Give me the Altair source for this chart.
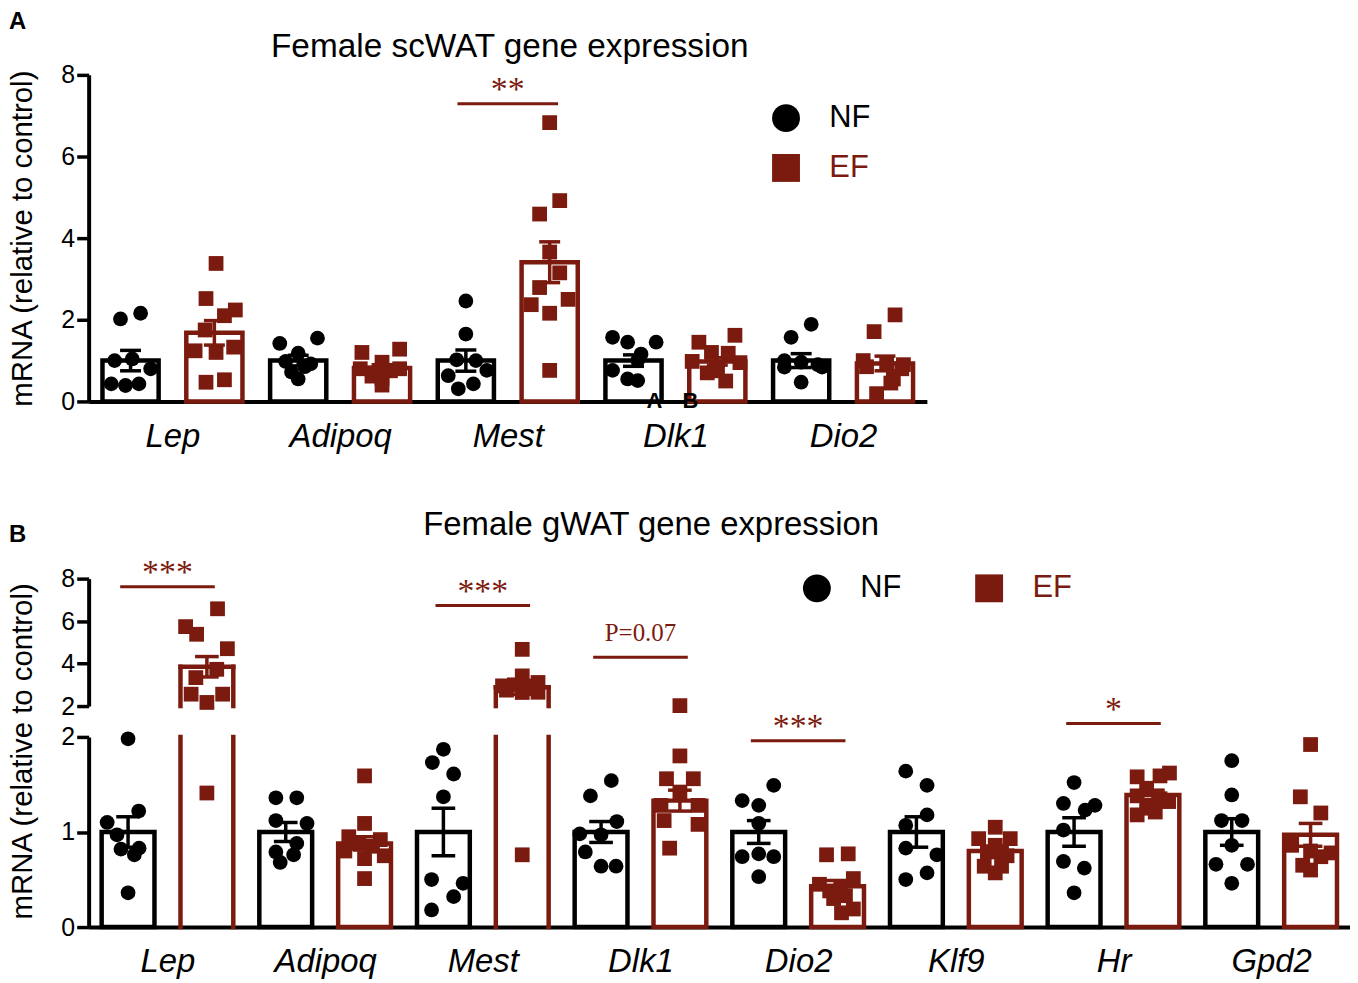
import json
import altair as alt
import pandas as pd

FONT = "Liberation Sans"
SERIF = "Liberation Serif"
BLACK = "#000000"
DARK = "#7b1a0e"

groups = ["NF", "EF"]
y_title = "mRNA (relative to control)"

# ---------------- Panel A: Female scWAT ----------------
title_a = "Female scWAT gene expression"
genes_a = ["Lep", "Adipoq", "Mest", "Dlk1", "Dio2"]
mean_a_nf = [1.0, 1.0, 1.0, 1.0, 1.0]
mean_a_ef = [1.68, 0.82, 3.41, 0.98, 0.93]
sem_a_nf = [0.25, 0.13, 0.26, 0.14, 0.17]
sem_a_ef = [0.30, 0.08, 0.50, 0.09, 0.18]
pts_a_nf = {
    "Lep": [2.02, 2.16, 1.00, 1.04, 0.80, 0.43, 0.39, 0.43],
    "Adipoq": [1.42, 1.55, 1.18, 0.98, 0.92, 0.85, 0.72, 0.55],
    "Mest": [2.46, 1.65, 1.02, 1.00, 0.63, 0.76, 0.31, 0.43],
    "Dlk1": [1.57, 1.45, 1.45, 1.16, 1.00, 0.76, 0.55, 0.51],
    "Dio2": [1.89, 1.57, 1.00, 0.96, 0.90, 0.84, 0.84, 0.47],
}
jit_a_nf = {
    "Lep": [-0.12, 0.12, -0.19, 0.02, 0.24, -0.23, -0.06, 0.10],
    "Adipoq": [-0.22, 0.23, 0.0, -0.15, 0.15, 0.08, -0.08, 0.0],
    "Mest": [0.0, 0.0, -0.11, 0.12, -0.21, 0.25, -0.09, 0.09],
    "Dlk1": [-0.25, -0.07, 0.27, 0.09, 0.05, -0.25, -0.07, 0.05],
    "Dio2": [0.12, -0.12, -0.20, 0.0, 0.20, -0.20, 0.25, 0.0],
}
pts_a_ef = {
    "Lep": [3.38, 2.52, 2.24, 2.10, 1.75, 1.24, 1.20, 1.33, 0.47, 0.53],
    "Adipoq": [1.20, 1.28, 0.96, 0.80, 0.80, 0.75, 0.70, 0.62, 0.56, 0.40],
    "Mest": [6.83, 4.92, 4.59, 3.66, 3.15, 2.79, 2.37, 2.50, 2.16, 0.76],
    "Dlk1": [1.62, 1.45, 1.20, 1.18, 0.98, 0.95, 0.80, 0.75, 0.70, 0.50],
    "Dio2": [2.12, 1.71, 1.00, 0.95, 0.90, 0.85, 0.80, 0.55, 0.45, 0.19],
}
jit_a_ef = {
    "Lep": [0.02, -0.10, 0.25, 0.12, -0.11, -0.23, 0.02, 0.23, -0.10, 0.12],
    "Adipoq": [-0.24, 0.21, 0.0, -0.26, 0.21, 0.10, -0.10, -0.12, 0.0, 0.0],
    "Mest": [0.0, 0.12, -0.12, 0.0, 0.12, -0.12, -0.22, 0.22, 0.0, 0.0],
    "Dlk1": [0.21, -0.22, -0.07, 0.13, -0.30, 0.27, 0.0, 0.0, -0.12, 0.10],
    "Dio2": [0.12, -0.13, -0.26, 0.02, 0.22, -0.22, 0.20, 0.10, 0.07, -0.10],
}
sig_a_gene = ["Mest"]
sig_a_y = [7.29]
sig_a_text = ["**"]
yticks_a = [0, 2, 4, 6, 8]
stray_text = ["A", "B"]
stray_x = [6.25, 6.68]
stray_y = [0.0, 0.0]

# ---------------- Panel B: Female gWAT ----------------
title_b = "Female gWAT gene expression"
genes_b = ["Lep", "Adipoq", "Mest", "Dlk1", "Dio2", "Klf9", "Hr", "Gpd2"]
mean_b_nf = [1.0, 1.0, 1.0, 1.0, 1.0, 1.0, 1.0, 1.0]
mean_b_ef = [3.85, 0.88, 2.88, 1.33, 0.43, 0.80, 1.39, 0.97]
sem_b_nf = [0.16, 0.10, 0.25, 0.11, 0.12, 0.16, 0.15, 0.14]
sem_b_ef = [0.48, 0.07, 0.33, 0.11, 0.06, 0.05, 0.05, 0.12]
pts_b_nf = {
    "Lep": [1.98, 1.22, 1.10, 0.97, 0.82, 0.76, 0.83, 0.36],
    "Adipoq": [1.36, 1.36, 1.12, 1.09, 0.88, 0.79, 0.76, 0.68],
    "Mest": [1.87, 1.73, 1.61, 1.37, 0.50, 0.46, 0.32, 0.18],
    "Dlk1": [1.54, 1.38, 1.11, 0.98, 0.97, 0.79, 0.64, 0.64],
    "Dio2": [1.49, 1.33, 1.28, 1.09, 0.74, 0.77, 0.74, 0.53],
    "Klf9": [1.64, 1.49, 1.18, 1.07, 0.83, 0.76, 0.57, 0.50],
    "Hr": [1.52, 1.30, 1.28, 1.23, 1.02, 0.69, 0.62, 0.36],
    "Gpd2": [1.75, 1.39, 1.12, 1.12, 0.86, 0.66, 0.66, 0.46],
}
jit_b_nf = {
    "Lep": [0.0, 0.135, -0.265, -0.14, -0.09, 0.08, 0.14, 0.0],
    "Adipoq": [-0.125, 0.14, -0.125, 0.27, 0.14, -0.125, 0.10, -0.07],
    "Mest": [0.0, -0.14, 0.13, 0.0, -0.15, 0.25, 0.13, -0.15],
    "Dlk1": [0.13, -0.135, 0.20, -0.27, 0.0, -0.20, 0.0, 0.19],
    "Dio2": [0.19, -0.21, 0.0, 0.0, -0.21, 0.0, 0.19, 0.0],
    "Klf9": [-0.135, 0.135, 0.135, -0.135, -0.135, 0.26, 0.135, -0.135],
    "Hr": [0.0, -0.135, 0.265, 0.14, -0.135, -0.135, 0.13, 0.0],
    "Gpd2": [0.0, 0.0, -0.13, 0.13, 0.0, -0.20, 0.20, 0.0],
}
pts_b_ef = {
    "Lep": [6.58, 5.74, 5.38, 4.70, 3.73, 3.34, 2.56, 2.17, 2.56, 1.41],
    "Adipoq": [1.59, 1.09, 0.95, 0.92, 0.88, 0.85, 0.80, 0.75, 0.72, 0.51],
    "Mest": [4.67, 3.42, 3.11, 2.95, 3.00, 2.85, 2.75, 2.64, 2.65, 0.76],
    "Dlk1": [2.02, 1.80, 1.56, 1.56, 1.42, 1.28, 1.28, 1.12, 1.08, 0.83],
    "Dio2": [0.77, 0.76, 0.51, 0.45, 0.42, 0.38, 0.33, 0.30, 0.19, 0.15],
    "Klf9": [1.05, 0.93, 0.93, 0.86, 0.79, 0.79, 0.75, 0.64, 0.64, 0.57],
    "Hr": [1.58, 1.59, 1.62, 1.46, 1.38, 1.35, 1.32, 1.25, 1.21, 1.18],
    "Gpd2": [1.92, 1.37, 1.20, 0.88, 0.86, 0.80, 0.78, 0.74, 0.65, 0.60],
}
jit_b_ef = {
    "Lep": [0.135, -0.27, -0.13, 0.26, 0.125, -0.14, -0.20, 0.0, 0.20, 0.0],
    "Adipoq": [0.0, 0.0, -0.20, 0.20, -0.10, 0.10, -0.25, 0.25, 0.0, 0.0],
    "Mest": [0.0, 0.0, 0.20, -0.25, -0.10, 0.10, -0.20, 0.0, 0.20, 0.0],
    "Dlk1": [0.0, 0.0, -0.17, 0.17, 0.0, -0.24, 0.23, -0.20, 0.23, -0.13],
    "Dio2": [0.135, -0.14, 0.20, -0.23, 0.04, -0.10, 0.10, -0.05, 0.20, 0.05],
    "Klf9": [0.0, -0.21, 0.19, 0.0, -0.10, 0.08, 0.15, -0.14, 0.08, 0.0],
    "Hr": [-0.20, 0.09, 0.21, -0.08, -0.20, 0.09, 0.20, -0.08, 0.03, -0.20],
    "Gpd2": [0.0, -0.13, 0.13, -0.24, -0.24, 0.0, 0.26, 0.13, -0.10, 0.0],
}
sig_b_gene = ["Lep", "Mest", "Dlk1", "Dio2", "Hr"]
sig_b_y = [7.62, 6.73, 4.30, 1.96, 2.14]
sig_b_seg = ["upper", "upper", "upper", "lower", "lower"]
sig_b_text = ["***", "***", "P=0.07", "***", "*"]
yticks_b_upper = [2, 4, 6, 8]
yticks_b_lower = [0, 1, 2]
BREAK = 2.0

# ---------------- layout / style constants ----------------
WA, HA = 842, 328
WB = 1267
B_UP, B_GAP, B_LOW = 128, 31, 191
HB = B_UP + B_GAP + B_LOW
HALF = 0.335
CAP_A = 0.125
CAP_B = 0.15
BR = 0.6


def bars_df(genes, m_nf, m_ef, s_nf, s_ef):
    rows = []
    for i, g in enumerate(genes):
        rows.append({"gene": g, "group": "NF", "mean": m_nf[i], "sem": s_nf[i]})
        rows.append({"gene": g, "group": "EF", "mean": m_ef[i], "sem": s_ef[i]})
    return pd.DataFrame(rows)


def points_df(genes, p_nf, j_nf, p_ef, j_ef):
    rows = []
    for g in genes:
        for v, j in zip(p_nf[g], j_nf[g]):
            rows.append({"gene": g, "group": "NF", "value": v, "jitter": j})
        for v, j in zip(p_ef[g], j_ef[g]):
            rows.append({"gene": g, "group": "EF", "value": v, "jitter": j})
    return pd.DataFrame(rows)


def pos_expr(genes):
    return (f"2 * indexof({json.dumps(genes)}, datum.gene) + "
            f"indexof({json.dumps(groups)}, datum.group)")


color_scale = alt.Scale(domain=groups, range=[BLACK, DARK])
shape_scale = alt.Scale(domain=groups, range=["circle", "square"])
label_color = alt.ExprRef(expr=f"datum.label == 'EF' ? '{DARK}' : '{BLACK}'")

xaxis_style = dict(title=None, ticks=False, tickSize=0, domainWidth=4, domainColor=BLACK,
                   labelFont=FONT, labelFontSize=33, labelFontStyle="italic",
                   labelColor=BLACK, labelPadding=19, grid=False, labelAngle=0,
                   labelOverlap=False, labelFlush=False)
yaxis_style = dict(tickSize=12, tickWidth=3.5, tickColor=BLACK, domainWidth=4,
                   domainColor=BLACK, labelFont=FONT, labelFontSize=25, labelColor=BLACK,
                   labelPadding=2, grid=False, titleFont=FONT, titleFontSize=29.5,
                   titleFontWeight="normal", titleColor=BLACK, titlePadding=23,
                   minExtent=28, maxExtent=28, labelFlush=False, labelOverlap=False,
                   orient="left", format="~g")


def X(field, sx, ax):
    return alt.X(f"{field}:Q", scale=sx, axis=ax)


def Y(field, sy, ax):
    return alt.Y(f"{field}:Q", scale=sy, axis=ax)


def stroke():
    # outline colour per group, as a conditional value (no extra legend)
    return alt.condition(f"datum.group == '{groups[1]}'", alt.value(DARK), alt.value(BLACK))


def point_layer(df, genes, sx, ax, sy, ay, legend, flt=None):
    ch = alt.Chart(df).transform_calculate(pos=pos_expr(genes)).transform_calculate(
        px="datum.pos + datum.jitter")
    if flt:
        ch = ch.transform_filter(flt)
    return ch.mark_point(filled=True, size=220, opacity=1, strokeWidth=0).encode(
        x=X("px", sx, ax), y=Y("value", sy, ay),
        color=alt.Color("group:N", scale=color_scale, legend=legend),
        shape=alt.Shape("group:N", scale=shape_scale, legend=legend),
    )


def base_bars(df, genes, cap):
    return alt.Chart(df).transform_calculate(pos=pos_expr(genes)).transform_calculate(
        x0=f"datum.pos - {HALF}", x1=f"datum.pos + {HALF}",
        c0=f"datum.pos - {cap}", c1=f"datum.pos + {cap}",
        lo="datum.mean - datum.sem", hi="datum.mean + datum.sem",
        base="0", brk=f"{BREAK}")


def err_layers(base, sx, ax, sy, ay):
    line = base.mark_rule(strokeWidth=3.5).encode(
        x=X("pos", sx, ax), y=Y("lo", sy, ay), y2="hi:Q", stroke=stroke())
    top = base.mark_rule(strokeWidth=3.5).encode(
        x=X("c0", sx, ax), x2="c1:Q", y=Y("hi", sy, ay), stroke=stroke())
    bot = base.mark_rule(strokeWidth=3.5).encode(
        x=X("c0", sx, ax), x2="c1:Q", y=Y("lo", sy, ay), stroke=stroke())
    return [line, top, bot]


def sig_layers(df, genes, sx, ax, sy, ay):
    base = alt.Chart(df).transform_calculate(
        c=f"2 * indexof({json.dumps(genes)}, datum.gene) + 0.5").transform_calculate(
        b0=f"datum.c - {BR}", b1=f"datum.c + {BR}")
    line = base.mark_rule(color=DARK, strokeWidth=3).encode(
        x=X("b0", sx, ax), x2="b1:Q", y=Y("y", sy, ay))
    stars = base.transform_filter("indexof(datum.label, 'P') < 0").mark_text(
        font=SERIF, fontSize=34, color=DARK, baseline="alphabetic", dy=-4).encode(
        x=X("c", sx, ax), y=Y("y", sy, ay), text="label:N")
    ptxt = base.transform_filter("indexof(datum.label, 'P') >= 0").mark_text(
        font=SERIF, fontSize=25, color=DARK, baseline="alphabetic", dy=-16).encode(
        x=X("c", sx, ax), y=Y("y", sy, ay), text="label:N")
    return [line, stars, ptxt]


def label_text(t, xv, yv, size, weight, align, baseline):
    return alt.Chart(pd.DataFrame({"t": [t]})).mark_text(
        align=align, baseline=baseline, font=FONT, fontSize=size, fontWeight=weight,
        color=BLACK).encode(x=alt.value(xv), y=alt.value(yv), text="t:N")


# ---------------- build panel A ----------------
bars_a = bars_df(genes_a, mean_a_nf, mean_a_ef, sem_a_nf, sem_a_ef)
points_a = points_df(genes_a, pts_a_nf, jit_a_nf, pts_a_ef, jit_a_ef)
sig_a = pd.DataFrame({"gene": sig_a_gene, "y": sig_a_y, "label": sig_a_text})

sxA = alt.Scale(domain=[-0.5, 2 * len(genes_a) - 0.5], nice=False, zero=False)
syA = alt.Scale(domain=[0, 8], nice=False, zero=False)
axXA = alt.Axis(values=[2 * i + 0.5 for i in range(len(genes_a))],
                labelExpr=f"{json.dumps(genes_a)}[round((datum.value - 0.5) / 2)]",
                **xaxis_style)
axYA = alt.Axis(values=yticks_a, title=y_title, **yaxis_style)
legA = alt.Legend(title=None, orient="none", legendX=685, legendY=28, direction="vertical",
                  symbolSize=784, symbolStrokeWidth=0, labelFont=FONT, labelFontSize=31,
                  labelOffset=28, rowPadding=18, padding=0, labelColor=label_color)

bA = base_bars(bars_a, genes_a, CAP_A)
barsA = bA.mark_bar(fill="white", strokeWidth=4.5).encode(
    x=X("x0", sxA, axXA), x2="x1:Q", y=Y("mean", syA, axYA), y2="base:Q", stroke=stroke())
ptsA = point_layer(points_a, genes_a, sxA, axXA, syA, axYA, legA)
strayA = alt.Chart(pd.DataFrame({"t": stray_text, "xv": stray_x, "yv": stray_y})).mark_text(
    font=FONT, fontSize=22, fontWeight="bold", color=BLACK, baseline="middle").encode(
    x=X("xv", sxA, axXA), y=Y("yv", syA, axYA), text="t:N")

chartA = alt.layer(
    barsA, ptsA, *err_layers(bA, sxA, axXA, syA, axYA),
    *sig_layers(sig_a, genes_a, sxA, axXA, syA, axYA), strayA,
    label_text("A", -80, -65, 24, "bold", "left", "top"),
    label_text(title_a, 423, -28, 33.5, "normal", "center", "middle"),
).properties(width=WA, height=HA)

# ---------------- build panel B ----------------
bars_b = bars_df(genes_b, mean_b_nf, mean_b_ef, sem_b_nf, sem_b_ef)
points_b = points_df(genes_b, pts_b_nf, jit_b_nf, pts_b_ef, jit_b_ef)
sig_b = pd.DataFrame({"gene": sig_b_gene, "y": sig_b_y, "seg": sig_b_seg, "label": sig_b_text})

sxB = alt.Scale(domain=[-0.5, 2 * len(genes_b) - 0.5], nice=False, zero=False)
syU = alt.Scale(domain=[BREAK, 8], range=[B_UP, 0], nice=False, zero=False)
syL = alt.Scale(domain=[0, BREAK], range=[HB, B_UP + B_GAP], nice=False, zero=False)
axXB = alt.Axis(values=[2 * i + 0.5 for i in range(len(genes_b))],
                labelExpr=f"{json.dumps(genes_b)}[round((datum.value - 0.5) / 2)]",
                **xaxis_style)
axYU = alt.Axis(values=yticks_b_upper, title=None, **yaxis_style)
axYL = alt.Axis(values=yticks_b_lower, title=y_title, titleY=173, **yaxis_style)
legB = alt.Legend(title=None, orient="none", legendX=716, legendY=-6, direction="horizontal",
                  symbolSize=784, symbolStrokeWidth=0, labelFont=FONT, labelFontSize=31,
                  labelOffset=28, columnPadding=72, padding=0, labelColor=label_color)

bB = base_bars(bars_b, genes_b, CAP_B)
up_b = bB.transform_filter(f"datum.mean > {BREAK}")
low_b = bB.transform_filter(f"datum.mean <= {BREAK}")

upper = alt.layer(
    up_b.mark_rule(strokeWidth=4.5, strokeCap="square").encode(
        x=X("x0", sxB, axXB), y=Y("brk", syU, axYU), y2="mean:Q", stroke=stroke()),
    up_b.mark_rule(strokeWidth=4.5, strokeCap="square").encode(
        x=X("x1", sxB, axXB), y=Y("brk", syU, axYU), y2="mean:Q", stroke=stroke()),
    up_b.mark_rule(strokeWidth=4.5, strokeCap="square").encode(
        x=X("x0", sxB, axXB), x2="x1:Q", y=Y("mean", syU, axYU), stroke=stroke()),
    point_layer(points_b, genes_b, sxB, axXB, syU, axYU, legB, f"datum.value >= {BREAK}"),
    *err_layers(up_b, sxB, axXB, syU, axYU),
    *sig_layers(sig_b[sig_b.seg == "upper"], genes_b, sxB, axXB, syU, axYU),
)

lower = alt.layer(
    low_b.mark_bar(fill="white", strokeWidth=4.5).encode(
        x=X("x0", sxB, axXB), x2="x1:Q", y=Y("mean", syL, axYL), y2="base:Q", stroke=stroke()),
    up_b.mark_rule(strokeWidth=4.5, strokeCap="square").encode(
        x=X("x0", sxB, axXB), y=Y("base", syL, axYL), y2="brk:Q", stroke=stroke()),
    up_b.mark_rule(strokeWidth=4.5, strokeCap="square").encode(
        x=X("x1", sxB, axXB), y=Y("base", syL, axYL), y2="brk:Q", stroke=stroke()),
    point_layer(points_b, genes_b, sxB, axXB, syL, axYL, legB, f"datum.value < {BREAK}"),
    *err_layers(low_b, sxB, axXB, syL, axYL),
    *sig_layers(sig_b[sig_b.seg == "lower"], genes_b, sxB, axXB, syL, axYL),
    label_text("B", -80, -56, 24, "bold", "left", "top"),
    label_text(title_b, 565, -54, 33, "normal", "center", "middle"),
)

chartB = alt.layer(upper, lower).resolve_scale(y="independent").properties(
    width=WB, height=HB)

chart = alt.vconcat(chartA, chartB, spacing=56).resolve_scale(
    x="independent", y="independent", color="independent", shape="independent",
).properties(padding=0, background="white").configure_view(stroke=None)

chart.save("out.html", embed_options={"renderer": "svg", "actions": False})
